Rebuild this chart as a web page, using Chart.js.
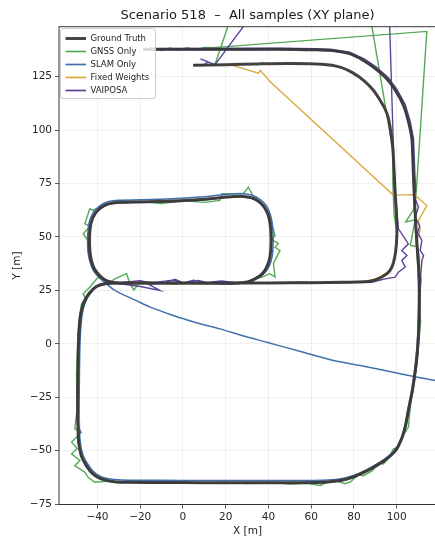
<!DOCTYPE html>
<html>
<head>
<meta charset="utf-8">
<script src="https://cdn.jsdelivr.net/npm/chart.js@4.4.1/dist/chart.umd.min.js"></script>
<style>
  html, body { margin: 0; padding: 0; background: #fff; overflow: hidden; }
  #wrap { width: 437px; height: 539px; }
</style>
</head>
<body>
<div id="wrap"><canvas id="xyChart" width="437" height="539"></canvas></div>
<script>
// tick values
const xTicks = [-40, -20, 0, 20, 40, 60, 80, 100];
const yTicks = [-75, -50, -25, 0, 25, 50, 75, 100, 125];

// trajectories, [x, y] in metres
const groundTruth = [
  [-18.6,137.8],[0,137.8],[20,137.8],[45,137.9],[62,137.6],[70,137.2],[78,135.8],[84.5,132.6],[90,128.8],[95.4,124],
  [99.5,118.5],[103.2,111.6],[105.5,104],[107.1,96],[107.8,80],[108.5,64],[109.3,50],[110.3,35],[110.6,25],[110.4,10],
  [109.8,-2],[108.7,-12.5],[107.3,-22],[105.5,-31],[104.2,-38],[102.5,-44],[99.8,-49.5],[95.4,-53.8],[90.5,-57],[86,-59.5],
  [80,-62.2],[73.5,-64],[65,-64.8],[50,-65],[30,-65],[10,-65],[-10,-64.9],[-25,-64.8],[-32,-64.5],[-36,-63.8],
  [-39.5,-62.6],[-42.5,-60.5],[-45.2,-57],[-47.5,-52.5],[-48.8,-46],[-49.2,-36],[-49.2,-20],[-49,-5],[-48.6,6],[-47.8,14],
  [-46.3,19.5],[-44,23.5],[-40.5,26.8],[-36,28.2],[-30,28.5],[-15,28.4],[0,28.3],[15,28.3],[25.9,28.3],[30.5,29],
  [33.7,30.4],[36.6,32.3],[38.6,34.8],[40.2,38.5],[41,43],[41.2,50],[40.8,56],[39.8,60.5],[38,64],[35.5,66.6],
  [32,68.4],[27,69.1],[18,68.5],[8,67.5],[-5,66.8],[-20,66.4],[-30,66.2],[-34.5,65.6],[-38.3,63.8],[-41.2,60.8],
  [-43,56.5],[-43.7,50],[-43.5,43],[-42.7,38.5],[-41.2,34.6],[-38.6,31.4],[-35.5,29.4],[-31,28.5],[-20,28.4],[0,28.4],
  [20,28.4],[40,28.5],[60,28.6],[75,28.8],[85.2,29],[88.5,29.5],[91.5,30.5],[94,31.8],[96.2,33.5],[97.6,35.6],
  [98.6,38.5],[99.5,43],[100.1,51.5],[99.9,60],[99.3,70],[98.8,80],[98.3,90],[97.7,96],[96.2,105.3],[94.5,110],
  [92.3,113.9],[89,118.8],[84.5,123.3],[79.5,126.8],[73.5,129.5],[65,130.8],[50,131.2],[35,131],[20,130.6],[4.8,130.4]
];

const gnssOnly = [
  [-18.6,137.6],[-14,138.4],[-10,137.3],[-6,138.5],[-2,137.4],[2,138.6],[6,137.5],[10,138.7],[14,138.6],[114.1,146.2],
  [108.7,64.1],[104.2,57],[108.6,58],[106.4,46],[109.8,45.5],[110.2,36],[111.5,30],[110.5,20],[111.2,10],[110.3,0],
  [109.5,-9.5],[108.2,-18],[106.8,-26],[106,-33],[105.5,-39],[103,-43],[100.8,-48.4],[98.5,-49.2],[96.5,-53],[93.8,-56.2],
  [91.5,-55.8],[88.5,-59.5],[84.5,-61.7],[82,-61.2],[78.5,-64.5],[75.9,-65.5],[72,-64.2],[67.3,-64.8],[64.2,-66.3],[58,-65.3],
  [50,-65.6],[40,-64.7],[30,-65.4],[20,-64.8],[10,-65.3],[0,-64.8],[-10,-65.2],[-20,-64.6],[-30,-65],[-36,-64.4],
  [-41.2,-64.8],[-44.4,-62.5],[-45.9,-60.1],[-50.6,-57],[-48.2,-54.6],[-52.1,-51.5],[-49.5,-49],[-52.1,-46],[-47.5,-41.4],[-50.6,-39.8],
  [-49.5,-30],[-49.8,-15],[-49.3,0],[-48.8,10],[-47.5,18.7],[-45.5,21],[-46.7,23.4],[-43.6,26.5],[-39.7,31.2],[-34.2,28.8],
  [-31.9,30.4],[-26.4,32.8],[-24.8,28.1],[-23,25.2],[-20,28.9],[-14.7,28.8],[-5,28],[5,28.9],[15,28.1],[25,28.8],
  [31,29.4],[36.9,31.2],[40.7,32.8],[43.1,31.2],[42.3,37.5],[45.4,43.7],[43.1,45.2],[44.6,47],[41.5,48.8],[43.1,50.7],
  [41.6,56],[40.5,60.5],[38,64.5],[33,68.8],[30.6,73.3],[28.2,70.2],[18.1,70.2],[17.3,67.1],[10,66.2],[0,67],
  [-10,65.6],[-20,66.6],[-30,65.8],[-36,65.5],[-42,62.4],[-43.6,63.2],[-45.9,56.2],[-43.5,55],[-46.7,51.5],[-44.2,48],
  [-44.4,43.7],[-43,40],[-41.5,35.5],[-38.5,32],[-36,29.5],[-30,28.7],[-20,28],[-5,28.8],[10,28.1],[25,28.7],
  [40,28.3],[55,28.9],[70,28.5],[85,28.8],[92,30.6],[96,33.2],[98.8,38],[99.8,45],[100.3,52],[98.8,60],
  [98.2,75],[98.3,90],[66,281],[15,130.8],[9,130.2],[4.8,130.5]
];

const slamOnly = [
  [-18.6,137.6],[20,137.6],[45,137.7],[62,137.4],[70,137],[78,135.6],[84.5,132.4],[90,128.6],[95.4,123.8],[99.5,118.3],
  [103.2,111.4],[105.5,103.8],[107,96],[107.6,80],[108.3,64],[109,50],[110,35],[110.3,25],[110.1,10],[109.5,-2],
  [108.4,-12.5],[107,-22],[105.2,-31],[103.9,-38],[102.2,-43.8],[99.5,-49.2],[95.1,-53.4],[90.2,-56.6],[85.8,-59],[79.8,-61.6],
  [73.3,-63.3],[65,-63.9],[50,-64],[30,-64],[10,-64],[-10,-63.9],[-25,-63.8],[-32,-63.5],[-36,-62.9],[-39.2,-61.7],
  [-42,-59.6],[-44.5,-56.3],[-46.8,-52],[-48.1,-45.8],[-48.5,-36],[-48.5,-20],[-48.3,-5],[-47.9,6],[-47.1,14],[-45.7,19.3],
  [-43.5,23.3],[-40.2,26.6],[-35.8,28],[-30,28.3],[-15,28.3],[0,28.3],[15,28.4],[26,28.5],[31,29.2],[34.4,30.5],
  [37.5,32.5],[39.6,35],[41.2,38.5],[42,43],[42.2,50],[41.8,56.2],[40.8,60.8],[39,64.6],[36.2,67.5],[32.4,69.5],
  [27,70.3],[18,69.7],[8,68.7],[-5,67.9],[-20,67.4],[-30,67.2],[-34.8,66.6],[-38.9,64.6],[-42,61.4],[-43.9,56.8],
  [-44.6,50],[-44.4,43],[-43.5,38.3],[-41.9,34.2],[-39.2,30.9],[-36,28.3],[-32.6,25.5],[-28,23],[-22,20.3],[-15.5,17.3],
  [-5,13.4],[0,11.8],[8,9.4],[17.3,7],[28,3.8],[39.2,0.75],[55,-3.6],[70.4,-7.8],[85.2,-10.6],[101.6,-14],
  [118,-17.2],[124,-18.3]
];

const fixedWeights = [
  [23.6,130.2],[35.3,126.7],[36.2,128],[40.7,122.8],[98.4,69.6],[108.3,69.8],[114.1,64.7],[110.2,57.8],[111,53],[109.2,48],
  [110.6,41],[110.9,30],[110.7,25],[110.5,10],[109.9,-2],[108.8,-12.5],[107.4,-22],[105.6,-31],[104.3,-38],[102.6,-44],
  [99.9,-49.4],[95.5,-53.7],[90.6,-56.9],[86,-59.4],[80,-62.1],[73.5,-63.9],[65,-64.7],[50,-64.9],[30,-64.9],[10,-64.9],
  [-10,-64.8],[-25,-64.7],[-32,-64.4],[-36,-63.7],[-39.5,-62.5],[-42.5,-60.4],[-45.2,-56.9],[-47.4,-52.4],[-48.6,-46],[-48.6,-36],
  [-49,-20],[-48.9,-5],[-48.5,6],[-47.7,14],[-46.2,19.5],[-43.9,23.5],[-40.4,26.8],[-36,28.2],[-30,28.5],[-15,28.4],
  [0,28.3],[15,28.3],[25.9,28.3],[30.5,29],[33.7,30.4],[36.6,32.3],[38.6,34.8],[40.2,38.5],[41,43],[41.2,50],
  [40.8,56],[39.8,60.5],[38,64],[35.5,66.6],[32,68.4],[27,69.2],[18,68.5],[8,67.5],[-5,66.8],[-20,66.4],
  [-30,66.2],[-34.5,65.6],[-38.3,63.8],[-41.2,60.8],[-43,56.5],[-43.7,50],[-43.5,43],[-42.7,38.5],[-41.2,34.6],[-38.6,31.4],
  [-35.5,29.4],[-31,28.5],[-20,28.4],[0,28.4],[20,28.4],[40,28.5],[60,28.6],[75,28.8],[85.5,29.3],[89,30],
  [92.3,31.3],[94.8,32.8],[96.8,34.6],[98.2,37.2],[99.2,40.5],[100,45],[100.3,52],[100,60],[99.3,70],[98.8,80],
  [98.3,90],[97.7,96],[96.2,105.3],[94.5,110],[92.3,113.9],[89,118.8],[84.5,123.3],[79.5,126.8],[73.5,129.5],[65,130.8],
  [50,131.2],[35,131],[20,130.6],[4.8,130.4]
];

const vaiposa = [
  [-18.6,138.1],[20,138.2],[45,138.3],[62,138.1],[70,137.8],[78,136.5],[84.8,133.3],[90.5,129.5],[96,124.6],[100.2,119],
  [104,112],[106.3,104.2],[107.9,96],[108.5,80],[108.9,72],[107.9,69.5],[110.2,64],[108.7,59.3],[110.8,55],[109.8,52],
  [111.8,48.4],[111,43.7],[112.6,41.3],[111.8,39],[111.3,33],[110.9,25],[110.7,10],[110.1,-2],[109,-12.5],[107.6,-22],
  [105.8,-31],[104.5,-38],[102.7,-44],[100,-49.6],[95.6,-54],[90.6,-57.2],[86,-59.7],[80,-62.4],[73.5,-64.2],[65,-65],
  [50,-65.2],[30,-65.1],[10,-65.2],[-10,-65],[-25,-64.9],[-32,-64.7],[-36,-64],[-39.7,-62.8],[-42.8,-60.6],[-45.5,-57],
  [-47.8,-52.5],[-49.1,-46],[-48.2,-40.6],[-49.6,-36],[-49.5,-20],[-49.3,-5],[-48.9,6],[-48.1,14],[-46.6,19.5],[-44.2,23.7],
  [-40.7,27],[-36,28.4],[-30,28.6],[-20,29.5],[-15,28.5],[-5,29.8],[0,28.5],[5,29.8],[10,28.6],[18,29.4],
  [26,28.5],[30.5,29.2],[33.7,30.6],[36.6,32.5],[38.6,35],[40.2,38.7],[41,43],[41.6,49],[41.2,52.2],[40.9,56],
  [39.8,60.5],[38,64],[35.5,66.5],[32,68.1],[27,68.9],[18,68.2],[8,67.2],[-5,66.5],[-20,66.2],[-30,66],
  [-34.5,65.4],[-38.5,63.5],[-41.4,60.5],[-43.3,56.3],[-44.4,50],[-44.2,43],[-43.5,39],[-41.5,34.6],[-38.8,31.3],[-35.5,29.2],
  [-31,28.3],[-20,26.8],[-10.8,25],[-16,27.8],[-8,28.6],[-3.7,30.2],[0,28.6],[7.2,29.7],[12,28.5],[20,28.6],
  [40,28.4],[60,28.5],[75,28.7],[85,28.9],[88.4,28.8],[94.6,30.4],[99.3,31.2],[100.8,33.5],[104,35.9],[102.4,39],
  [104.8,41.3],[102.4,43.7],[105.5,46.8],[100.8,53.8],[100.3,60],[99.5,70],[99,80],[98.6,88],[94,237],[15,130.6],
  [8.2,133.3],[11.6,132],[10,130.6],[4.8,130.4]
];

const toPoints = (arr) => arr.map(([x, y]) => ({ x, y }));
const fmtTick = (v) => (v < 0 ? '\u2212' + Math.abs(v) : String(v));

Chart.defaults.font.family = '"DejaVu Sans", sans-serif';
Chart.defaults.color = '#262626';

// matplotlib-style spines on all four sides
const frame = {
  id: 'frame',
  afterDatasetsDraw(chart) {
    const { ctx, chartArea: a } = chart;
    ctx.save();
    ctx.strokeStyle = '#333';
    ctx.lineWidth = 1;
    ctx.strokeRect(a.left, a.top, a.right - a.left, a.bottom - a.top);
    ctx.restore();
  }
};

// legend boxed inside the axes, upper left
const insetLegend = {
  id: 'insetLegend',
  afterDraw(chart) {
    const { ctx } = chart;
    ctx.save();
    ctx.beginPath();
    ctx.roundRect(60.5, 28.5, 95, 70, 2.5);
    ctx.fillStyle = 'rgba(255,255,255,0.8)';
    ctx.fill();
    ctx.strokeStyle = '#cccccc';
    ctx.lineWidth = 1;
    ctx.stroke();
    ctx.font = '8.5px "DejaVu Sans"';
    ctx.textBaseline = 'middle';
    chart.data.datasets.forEach((ds, i) => {
      const y = 38.5 + i * 13;
      ctx.strokeStyle = ds.borderColor;
      ctx.lineWidth = ds.legendWidth;
      ctx.beginPath();
      ctx.moveTo(65.5, y);
      ctx.lineTo(86, y);
      ctx.stroke();
      ctx.fillStyle = '#222';
      ctx.fillText(ds.label, 90.5, y);
    });
    ctx.restore();
  }
};

const ctx = document.getElementById('xyChart').getContext('2d');
const data = {
  datasets: [
    { label: 'Ground Truth',  data: toPoints(groundTruth),  borderColor: 'rgba(55,55,55,0.92)', borderWidth: 3,   legendWidth: 3,   tension: 0.3, order: 0 },
    { label: 'GNSS Only',     data: toPoints(gnssOnly),     borderColor: '#55a855',             borderWidth: 1.4, legendWidth: 1.7, tension: 0,   order: 4 },
    { label: 'SLAM Only',     data: toPoints(slamOnly),     borderColor: '#4170ad',             borderWidth: 1.5, legendWidth: 1.7, tension: 0.3, order: 3 },
    { label: 'Fixed Weights', data: toPoints(fixedWeights), borderColor: '#dba83c',             borderWidth: 1.4, legendWidth: 1.7, tension: 0,   order: 2 },
    { label: 'VAIPOSA',       data: toPoints(vaiposa),      borderColor: '#5e4499',             borderWidth: 1.4, legendWidth: 1.7, tension: 0,   order: 1 }
  ]
};
data.datasets.forEach(d => { d.showLine = true; d.pointRadius = 0; d.pointHoverRadius = 0; d.fill = false; });

const options = {
  responsive: false, animation: false,
  layout: { padding: { left: 0, right: 1, top: 0, bottom: 0 } },
  plugins: {
    legend: { display: false },
    tooltip: { enabled: false },
    title: { display: true, text: 'Scenario 518  \u2013  All samples (XY plane)', fullSize: false,
             font: { size: 13, weight: 'normal' }, color: '#1a1a1a', padding: { top: 8, bottom: 3.1 } }
  },
  scales: {
    x: {
      type: 'linear', min: -58, max: 118.4,
      afterBuildTicks: s => { s.ticks = xTicks.map(v => ({ value: v })); },
      afterFit: s => { s.height = 34.5; },
      ticks: { callback: fmtTick, font: { size: 10.5 }, padding: 2, autoSkip: false, maxRotation: 0 },
      grid: { color: 'rgba(0,0,0,0.08)', lineWidth: 0.8, tickColor: '#333', tickLength: 4 },
      border: { display: false },
      title: { display: true, text: 'X [m]', font: { size: 10.5 }, color: '#1a1a1a', padding: { top: 0, bottom: 1.2 } }
    },
    y: {
      type: 'linear', min: -75.2, max: 148.4,
      afterBuildTicks: s => { s.ticks = yTicks.map(v => ({ value: v })); },
      afterFit: s => { s.width = 59; },
      ticks: { callback: fmtTick, font: { size: 10.5 }, padding: 3, autoSkip: false },
      grid: { color: 'rgba(0,0,0,0.08)', lineWidth: 0.8, tickColor: '#333', tickLength: 4 },
      border: { display: false },
      title: { display: true, text: 'Y [m]', font: { size: 10.5 }, color: '#1a1a1a', padding: { top: 10.5, bottom: 0 } }
    }
  }
};

new Chart(ctx, { type: 'scatter', data, options, plugins: [frame, insetLegend] });
</script>
</body>
</html>
